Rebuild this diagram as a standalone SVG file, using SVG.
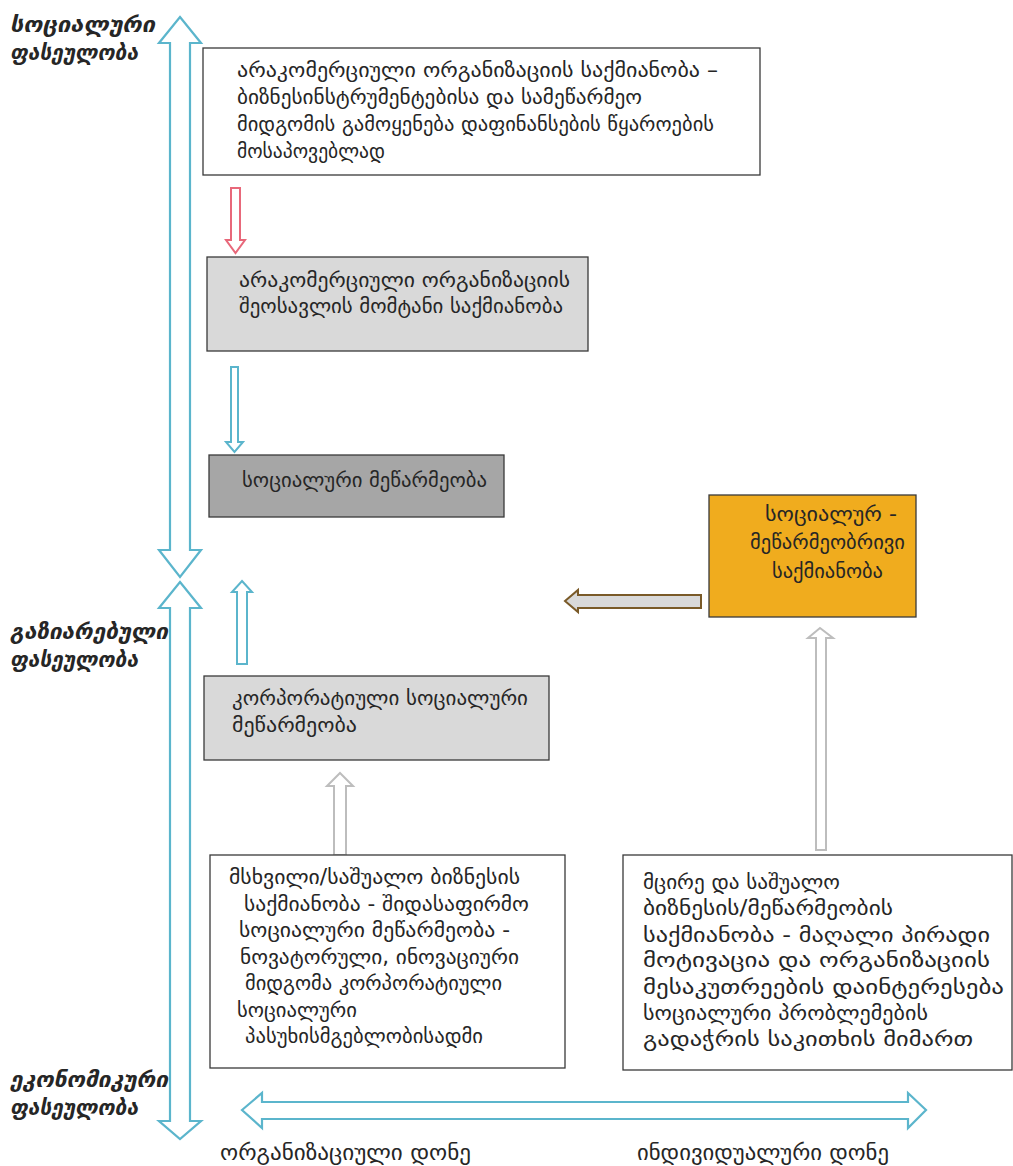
<svg xmlns="http://www.w3.org/2000/svg" width="1013" height="1166" viewBox="0 0 1013 1166">
<style>
.t{font-family:"DejaVu Sans","Noto Sans",sans-serif;font-size:20.5px;fill:#262626}
.lbl{font-family:"DejaVu Sans","Noto Sans",sans-serif;font-size:22px;font-weight:bold;font-style:italic;fill:#262626}
.lvl{font-family:"DejaVu Sans","Noto Sans",sans-serif;font-size:22px;fill:#262626}
.box{stroke:#3a3a3a;stroke-width:1.3}
.teal{fill:#fff;stroke:#5bb5cc;stroke-width:2.2}
</style>
<rect width="1013" height="1166" fill="#fff"/>
<g id="axes">
<path class="teal" d="M180,17 L201,43 L190,43 L190,550 L201,550 L180,577 L159,550 L170,550 L170,43 L159,43 Z"/>
<path class="teal" d="M180,582 L201,608 L190,608 L190,1121 L201,1121 L180,1139 L159,1121 L170,1121 L170,608 L159,608 Z"/>
<path class="teal" d="M242,1110 L262,1093 L262,1102 L908,1102 L908,1093 L926,1110 L908,1128 L908,1119 L262,1119 L262,1128 Z"/>
</g>
<g id="labels">
<text class="lbl" x="10" y="32" textLength="145" lengthAdjust="spacingAndGlyphs">სოციალური</text>
<text class="lbl" x="10" y="60" textLength="128" lengthAdjust="spacingAndGlyphs">ფასეულობა</text>
<text class="lbl" x="10" y="639" textLength="158" lengthAdjust="spacingAndGlyphs">გაზიარებული</text>
<text class="lbl" x="10" y="667" textLength="128" lengthAdjust="spacingAndGlyphs">ფასეულობა</text>
<text class="lbl" x="10" y="1087" textLength="158" lengthAdjust="spacingAndGlyphs">ეკონომიკური</text>
<text class="lbl" x="10" y="1115" textLength="128" lengthAdjust="spacingAndGlyphs">ფასეულობა</text>
<text class="lvl" x="220" y="1160" textLength="251" lengthAdjust="spacingAndGlyphs">ორგანიზაციული დონე</text>
<text class="lvl" x="637" y="1160" textLength="252" lengthAdjust="spacingAndGlyphs">ინდივიდუალური დონე</text>
</g>
<g id="connectors">
<path d="M231,188 L240,188 L240,240 L245,240 L235.5,253 L226,240 L231,240 Z" fill="#fff" stroke="#e8687a" stroke-width="2"/>
<path d="M231,367 L238,367 L238,442 L243,442 L234.5,452 L226,442 L231,442 Z" fill="#fff" stroke="#5bb5cc" stroke-width="2"/>
<path d="M565,601 L578,590 L578,595 L701,595 L701,608 L578,608 L578,612 Z" fill="#d9d9d9" stroke="#7a5a28" stroke-width="2"/>
<path d="M242,581 L252,592 L247,592 L247,664 L237,664 L237,592 L232,592 Z" fill="#fff" stroke="#5bb5cc" stroke-width="2"/>
<path d="M340,773 L353,786 L346,786 L346,855 L334,855 L334,786 L327,786 Z" fill="#fff" stroke="#bdbdbd" stroke-width="2"/>
<path d="M820,628 L833,638 L826,638 L826,850 L816,850 L816,638 L808,638 Z" fill="#fff" stroke="#bdbdbd" stroke-width="2"/>
</g>
<g id="node1">
<rect class="box" x="203" y="48" width="557" height="127" fill="#fff"/>
<text class="t" x="237" y="77" textLength="481" lengthAdjust="spacingAndGlyphs">არაკომერციული ორგანიზაციის საქმიანობა –</text>
<text class="t" x="237" y="104" textLength="405" lengthAdjust="spacingAndGlyphs">ბიზნესინსტრუმენტებისა და სამეწარმეო</text>
<text class="t" x="237" y="131" textLength="477" lengthAdjust="spacingAndGlyphs">მიდგომის გამოყენება დაფინანსების წყაროების</text>
<text class="t" x="237" y="158" textLength="148" lengthAdjust="spacingAndGlyphs">მოსაპოვებლად</text>
</g>
<g id="node2">
<rect class="box" x="207" y="257" width="381" height="94" fill="#d9d9d9"/>
<text class="t" x="239" y="287" textLength="331" lengthAdjust="spacingAndGlyphs">არაკომერციული ორგანიზაციის</text>
<text class="t" x="239" y="313" textLength="324" lengthAdjust="spacingAndGlyphs">შეოსავლის მომტანი საქმიანობა</text>
</g>
<g id="node3">
<rect class="box" x="209" y="455" width="295" height="62" fill="#a6a6a6"/>
<text class="t" x="242" y="487" textLength="245" lengthAdjust="spacingAndGlyphs">სოციალური მეწარმეობა</text>
</g>
<g id="node4">
<rect class="box" x="709" y="495" width="207" height="122" fill="#f0ac1e"/>
<text class="t" x="765" y="521" textLength="132" lengthAdjust="spacingAndGlyphs">სოციალურ -</text>
<text class="t" x="750" y="549" textLength="155" lengthAdjust="spacingAndGlyphs">მეწარმეობრივი</text>
<text class="t" x="772" y="578" textLength="111" lengthAdjust="spacingAndGlyphs">საქმიანობა</text>
</g>
<g id="node5">
<rect class="box" x="204" y="676" width="345" height="84" fill="#d9d9d9"/>
<text class="t" x="232" y="705" textLength="296" lengthAdjust="spacingAndGlyphs">კორპორატიული სოციალური</text>
<text class="t" x="232" y="732" textLength="125" lengthAdjust="spacingAndGlyphs">მეწარმეობა</text>
</g>
<g id="node6">
<rect class="box" x="210" y="855" width="355" height="213" fill="#fff"/>
<text class="t" x="229" y="884" textLength="291" lengthAdjust="spacingAndGlyphs">მსხვილი/საშუალო ბიზნესის</text>
<text class="t" x="244" y="911" textLength="285" lengthAdjust="spacingAndGlyphs">საქმიანობა - შიდასაფირმო</text>
<text class="t" x="239" y="937" textLength="271" lengthAdjust="spacingAndGlyphs">სოციალური მეწარმეობა  -</text>
<text class="t" x="240" y="964" textLength="279" lengthAdjust="spacingAndGlyphs">ნოვატორული, ინოვაციური</text>
<text class="t" x="245" y="990" textLength="257" lengthAdjust="spacingAndGlyphs">მიდგომა კორპორატიული</text>
<text class="t" x="237" y="1017" textLength="120" lengthAdjust="spacingAndGlyphs">სოციალური</text>
<text class="t" x="245" y="1043" textLength="238" lengthAdjust="spacingAndGlyphs">პასუხისმგებლობისადმი</text>
</g>
<g id="node7">
<rect class="box" x="623" y="855" width="389" height="215" fill="#fff"/>
<text class="t" x="643" y="889" textLength="197" lengthAdjust="spacingAndGlyphs">მცირე და საშუალო</text>
<text class="t" x="643" y="915" textLength="250" lengthAdjust="spacingAndGlyphs">ბიზნესის/მეწარმეობის</text>
<text class="t" x="643" y="942" textLength="347" lengthAdjust="spacingAndGlyphs">საქმიანობა - მაღალი პირადი</text>
<text class="t" x="643" y="967" textLength="347" lengthAdjust="spacingAndGlyphs">მოტივაცია და ორგანიზაციის</text>
<text class="t" x="643" y="994" textLength="361" lengthAdjust="spacingAndGlyphs">მესაკუთრეების დაინტერესება</text>
<text class="t" x="643" y="1020" textLength="285" lengthAdjust="spacingAndGlyphs">სოციალური პრობლემების</text>
<text class="t" x="643" y="1046" textLength="330" lengthAdjust="spacingAndGlyphs">გადაჭრის საკითხის მიმართ</text>
</g>
</svg>
